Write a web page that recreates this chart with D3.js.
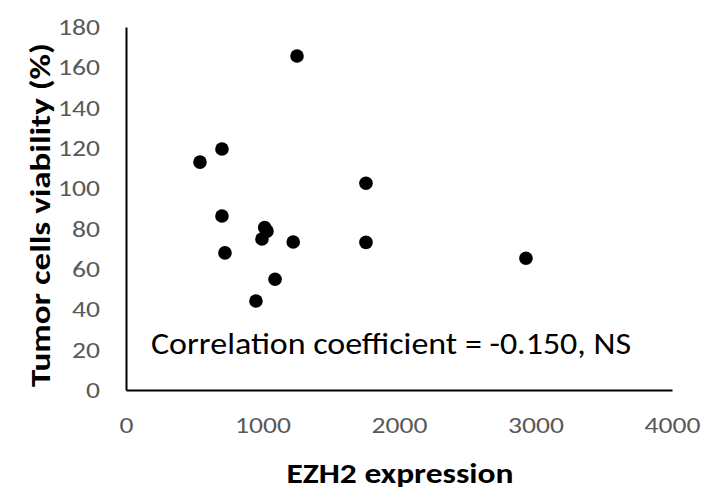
<!DOCTYPE html>
<html><head><meta charset="utf-8">
<script src="https://cdn.jsdelivr.net/npm/d3@7/dist/d3.min.js"></script>
<style>body{margin:0;background:#fff;}svg{display:block;}</style>
</head><body>
<svg id="c" width="704" height="490"></svg>
<script>
const ezh2 = [1253, 542, 703, 1758, 703, 1016, 1033, 996, 1225, 1758, 725, 2930, 1092, 952];
const viability = [165.6, 113, 119.5, 102.5, 86.3, 80.5, 78.8, 74.9, 73.4, 73.2, 68, 65.3, 54.9, 44.1];
const xTicks = [0, 1000, 2000, 3000, 4000];
const yTicks = [0, 20, 40, 60, 80, 100, 120, 140, 160, 180];
const xTitle = "EZH2 expression";
const yTitle = "Tumor cells viability (%)";
const note = "Correlation coefficient = -0.150, NS";

const font = "Carlito, Calibri, Lato, sans-serif";
const svg = d3.select("#c");
const x = d3.scaleLinear().domain([0, 4000]).range([126, 672]);
const y = d3.scaleLinear().domain([0, 180]).range([390, 27]);

function stretch(sel, k) {
  sel.each(function () {
    const w = this.getComputedTextLength();
    d3.select(this).attr("textLength", w * k).attr("lengthAdjust", "spacingAndGlyphs");
  });
}

const xAxis = svg.append("g").attr("transform", "translate(0,390)")
  .call(d3.axisBottom(x).tickValues(xTicks).tickSize(0).tickPadding(27).tickFormat(d3.format("d")));
const yAxis = svg.append("g").attr("transform", "translate(126,0)")
  .call(d3.axisLeft(y).tickValues(yTicks).tickSize(0).tickPadding(26).tickFormat(d3.format("d")));
[xAxis, yAxis].forEach(a => {
  a.select(".domain").attr("stroke", "#000").attr("stroke-width", 2);
  a.selectAll("text").attr("fill", "#595959").style("font-family", font).style("font-size", "23px");
  stretch(a.selectAll("text"), 1.2);
});

svg.append("g").selectAll("circle").data(ezh2.map((v, i) => [v, viability[i]])).enter()
  .append("circle").attr("cx", d => x(d[0])).attr("cy", d => y(d[1])).attr("r", 6.8).attr("fill", "#000");

svg.append("text").attr("x", 151).attr("y", 354)
  .style("font-family", font).style("font-size", "31px").attr("fill", "#000")
  .attr("textLength", 480).attr("lengthAdjust", "spacingAndGlyphs").text(note);

svg.append("text").attr("x", 400).attr("y", 483).attr("text-anchor", "middle")
  .style("font-family", font).style("font-size", "29px").style("font-weight", "bold").attr("fill", "#000")
  .attr("textLength", 227).attr("lengthAdjust", "spacingAndGlyphs").text(xTitle);

svg.append("text").attr("transform", "translate(50,215) rotate(-90)").attr("text-anchor", "middle")
  .style("font-family", font).style("font-size", "29px").style("font-weight", "bold").attr("fill", "#000")
  .attr("textLength", 344).attr("lengthAdjust", "spacingAndGlyphs").text(yTitle);
</script>
</body></html>
